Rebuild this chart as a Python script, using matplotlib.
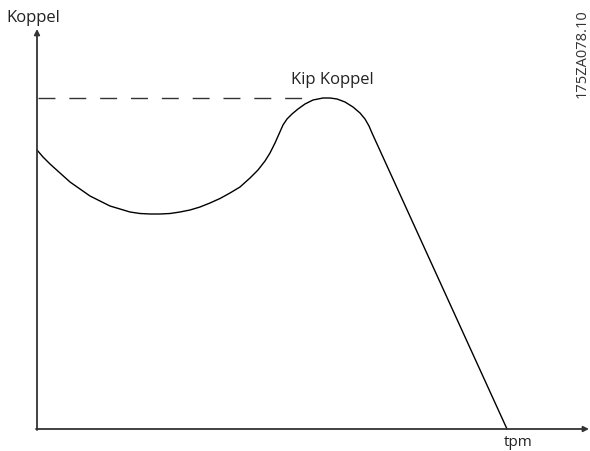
import numpy as np
import matplotlib
matplotlib.use("Agg")
import matplotlib.pyplot as plt

plt.rcParams['font.family'] = ['Open Sans', 'DejaVu Sans']
plt.rcParams['lines.scale_dashes'] = False

# curve (x = speed, y = torque, arbitrary units)
speed = [0, 6, 13, 23, 33, 43, 53, 63, 73, 83,
         93, 103, 113, 123, 133, 143, 153, 163, 173, 183,
         193, 203, 213, 221, 228, 233, 238, 242, 246, 250,
         255, 261, 268, 276, 286, 293, 300, 308, 316, 323,
         328, 332, 335, 470]
torque = [279, 272, 265, 256, 247, 240, 233, 228, 223, 220,
          217, 215.5, 215, 215, 215.5, 217, 219, 222, 226, 230.5,
          236, 242, 251, 259, 268, 276, 286, 295, 304, 310,
          315, 320, 325, 329, 331, 331, 330, 327, 322, 316,
          310, 303, 296, 0]

kip_level = 331
kip_end = 265

fig = plt.figure(figsize=(5.9, 4.52), dpi=100)
ax = fig.add_axes([0, 0, 1, 1])
ax.set_xlim(-37, 553)
ax.set_ylim(-22, 430)
ax.axis("off")

# assen met pijlen
arrow = dict(arrowstyle="-|>", color="#333333", lw=1.3, mutation_scale=8,
             shrinkA=0, shrinkB=0)
ax.annotate("", xy=(0, 400), xytext=(0, -1), arrowprops=arrow)
ax.annotate("", xy=(552, 0), xytext=(-1, 0), arrowprops=arrow)

# kip koppel lijn
ax.plot([1, kip_end], [kip_level, kip_level], color="#333333", lw=1,
        dashes=(12.2, 10))

# koppel curve
ax.plot(speed, torque, color="black", lw=1, solid_joinstyle="round")

ax.text(-4, 412, "Koppel", ha="center", va="center", fontsize=12, color="#222222")
ax.text(481, -13, "tpm", ha="center", va="center", fontsize=11, color="#222222")
ax.text(295, 350, "Kip Koppel", ha="center", va="center", fontsize=12, color="#222222")
ax.text(545, 376, "175ZA078.10", ha="center", va="center", rotation=90,
        fontsize=10.5, color="#333333")

fig.savefig("out.png", dpi=100)
